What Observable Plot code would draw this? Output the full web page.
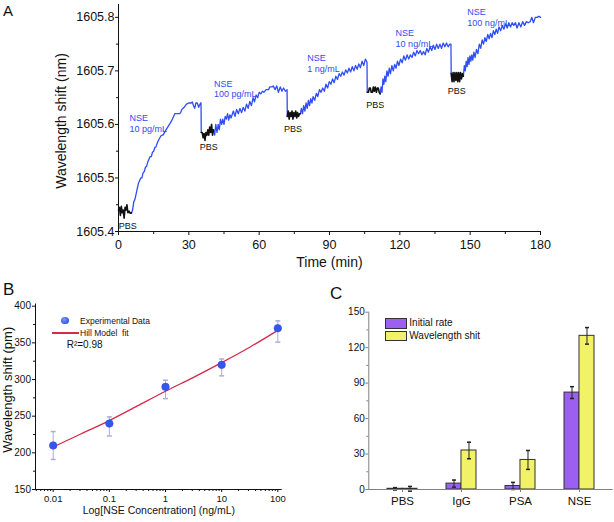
<!DOCTYPE html>
<html><head><meta charset="utf-8">
<script src="https://cdn.jsdelivr.net/npm/d3@7"></script>
<script src="https://cdn.jsdelivr.net/npm/@observablehq/plot@0.6"></script>
<style>
body{margin:0;background:#fff;}
#wrap{position:relative;width:614px;height:522px;overflow:hidden;background:#fff;font-family:"Liberation Sans",Arial,Helvetica,sans-serif;color:#111;}
#wrap svg{position:absolute;overflow:visible;}
.lbl{position:absolute;line-height:1;white-space:pre;}
</style></head><body><div id="wrap"></div>
<script>
// ---------------- Panel A data ----------------
const aXTicks = [0, 30, 60, 90, 120, 150, 180];
const aXMinor = [15, 45, 75, 105, 135, 165];
const aYTicks = [1605.4, 1605.5, 1605.6, 1605.7, 1605.8];
const aYMinor = [1605.45, 1605.55, 1605.65, 1605.75];

const pbs1 = [[0,1605.44],[0.4,1605.445],[0.8,1605.43],[1.2,1605.447],[1.6,1605.435],[2.0,1605.44],[2.4,1605.425],[2.8,1605.445],[3.2,1605.44],[3.6,1605.45],[4.0,1605.435],[4.5,1605.438],[5.0,1605.434],[5.5,1605.435]];
const blue1 = [[5.5,1605.434],[6,1605.44],[6.5,1605.455],[7,1605.46],[7.5,1605.47],[8,1605.48],[8.5,1605.49],[9,1605.495],[9.5,1605.5],[10,1605.5],[10.5,1605.51],[11,1605.512],[11.5,1605.52],[12,1605.522],[12.5,1605.53],[13,1605.535],[13.5,1605.54],[14,1605.54],[14.5,1605.548],[15,1605.55],[15.5,1605.557],[16,1605.558],[16.5,1605.565],[17,1605.57],[18,1605.578],[18.5,1605.58],[19,1605.58],[20,1605.588],[21,1605.595],[22,1605.602],[23,1605.61],[24,1605.62],[25,1605.62],[26,1605.62],[26.5,1605.622],[27,1605.628],[28,1605.632],[29,1605.638],[30,1605.64],[31,1605.64],[31.5,1605.642],[32,1605.635],[32.5,1605.63],[33,1605.64],[33.6,1605.64],[34.2,1605.632],[35,1605.64],[35.2,1605.64],[35.3,1605.585]];
const pbs2 = [[35.3,1605.585],[35.7,1605.585],[36.1,1605.575],[36.5,1605.583],[36.9,1605.57],[37.3,1605.585],[37.7,1605.58],[38.1,1605.59],[38.5,1605.58],[38.9,1605.595],[39.3,1605.585],[39.7,1605.6],[40.1,1605.58],[40.5,1605.59]];
const blue2 = [[40.5,1605.59],[41,1605.58],[41.5,1605.6],[42,1605.585],[42.5,1605.6],[43,1605.59],[43.5,1605.61],[44,1605.6],[44.5,1605.61],[45,1605.6],[45.5,1605.615],[46,1605.61],[46.5,1605.62],[47,1605.608],[47.5,1605.618],[48,1605.612],[49,1605.625],[49.7,1605.615],[50.4,1605.628],[51.1,1605.62],[51.8,1605.63],[52.5,1605.622],[53.2,1605.632],[53.9,1605.625],[54.6,1605.638],[55.3,1605.63],[56,1605.643],[56.7,1605.635],[57.4,1605.65],[58,1605.642],[58.7,1605.655],[59.4,1605.65],[60,1605.66],[60.7,1605.657],[61.4,1605.662],[62,1605.66],[63,1605.665],[64,1605.665],[64.5,1605.67],[65.5,1605.67],[66,1605.672],[66.8,1605.665],[67.5,1605.672],[68.2,1605.66],[69,1605.67],[69.7,1605.662],[70.4,1605.668],[71.2,1605.662],[71.9,1605.665],[72,1605.615]];
const pbs3 = [[72,1605.615],[72.4,1605.625],[72.8,1605.61],[73.2,1605.622],[73.6,1605.615],[74,1605.625],[74.4,1605.61],[74.8,1605.622],[75.2,1605.615],[75.6,1605.625],[76,1605.612],[76.4,1605.622],[76.8,1605.615],[77.2,1605.62],[77.6,1605.62]];
const blue3 = [[77.6,1605.62],[78,1605.63],[78.5,1605.62],[79,1605.635],[79.5,1605.625],[80,1605.64],[80.5,1605.63],[81,1605.645],[81.5,1605.635],[82,1605.648],[82.5,1605.64],[83,1605.652],[83.7,1605.645],[84.4,1605.658],[85,1605.652],[85.7,1605.665],[86.4,1605.66],[87.1,1605.668],[87.8,1605.662],[88.5,1605.675],[89.2,1605.668],[89.9,1605.68],[90.6,1605.675],[91.3,1605.685],[92,1605.678],[92.7,1605.69],[93.4,1605.684],[94.1,1605.695],[94.8,1605.69],[95.5,1605.698],[96.2,1605.692],[96.9,1605.702],[97.6,1605.696],[98.3,1605.705],[99,1605.698],[99.7,1605.708],[100.4,1605.7],[101.1,1605.71],[101.8,1605.703],[102.5,1605.713],[103.2,1605.706],[103.9,1605.718],[104.6,1605.71],[105.3,1605.722],[106,1605.716],[106.1,1605.66]];
const pbs4 = [[106.1,1605.66],[106.6,1605.66],[107,1605.668],[107.4,1605.668],[107.8,1605.66],[108.3,1605.66],[108.7,1605.67],[109.1,1605.662],[109.5,1605.67],[110,1605.66],[110.4,1605.668],[110.8,1605.668],[111.2,1605.66],[111.6,1605.657]];
const blue4 = [[111.6,1605.657],[112,1605.67],[112.4,1605.66],[112.8,1605.685],[113.2,1605.675],[113.6,1605.69],[114,1605.68],[114.5,1605.7],[115,1605.69],[115.5,1605.705],[116,1605.695],[116.6,1605.71],[117.2,1605.7],[117.8,1605.712],[118.4,1605.705],[119,1605.718],[119.6,1605.71],[120.3,1605.722],[121,1605.715],[121.7,1605.728],[122.4,1605.72],[123.1,1605.73],[123.8,1605.722],[124.5,1605.73],[125.2,1605.725],[125.9,1605.735],[126.6,1605.728],[127.3,1605.738],[128,1605.732],[128.7,1605.738],[129.4,1605.73],[130.1,1605.736],[130.8,1605.73],[131.5,1605.742],[132.2,1605.735],[132.9,1605.745],[133.6,1605.738],[134.3,1605.748],[135,1605.74],[135.7,1605.75],[136.4,1605.742],[137.1,1605.75],[137.8,1605.742],[138.5,1605.752],[139.2,1605.745],[139.9,1605.752],[140.6,1605.745],[141.3,1605.75],[141.8,1605.75],[141.9,1605.695]];
const pbs5 = [[141.9,1605.695],[142.3,1605.68],[142.7,1605.697],[143.1,1605.68],[143.5,1605.697],[143.9,1605.682],[144.3,1605.697],[144.7,1605.68],[145.1,1605.697],[145.5,1605.68],[145.9,1605.697],[146.3,1605.685],[146.7,1605.695],[147.1,1605.69]];
const blue5 = [[147.1,1605.69],[147.5,1605.71],[147.9,1605.7],[148.3,1605.718],[148.7,1605.708],[149.1,1605.725],[149.5,1605.712],[149.9,1605.728],[150.3,1605.718],[150.7,1605.73],[151.1,1605.72],[151.6,1605.735],[152.1,1605.725],[152.7,1605.74],[153.3,1605.732],[153.9,1605.75],[154.5,1605.742],[155.1,1605.758],[155.7,1605.75],[156.3,1605.762],[156.9,1605.755],[157.5,1605.768],[158.1,1605.76],[158.7,1605.77],[159.3,1605.762],[159.9,1605.775],[160.5,1605.768],[161.1,1605.778],[161.7,1605.77],[162.3,1605.782],[163,1605.775],[163.7,1605.785],[164.4,1605.778],[165.1,1605.788],[165.8,1605.78],[166.5,1605.79],[167.2,1605.782],[167.9,1605.79],[168.6,1605.785],[169.3,1605.79],[170,1605.78],[170.8,1605.79],[171.6,1605.782],[172.4,1605.792],[173.2,1605.785],[174,1605.792],[174.8,1605.79],[175.6,1605.792],[176.3,1605.8],[177,1605.79],[177.8,1605.8],[178.6,1605.8],[179.3,1605.802],[180,1605.8]];

const nseLabels = ["NSE\n10 pg/mL", "NSE\n100 pg/mL", "NSE\n1 ng/mL", "NSE\n10 ng/mL", "NSE\n100 ng/mL"];
const nseLabelT = [4.7, 40.7, 80.5, 118.2, 148.8];
const nseLabelV = [1605.62, 1605.685, 1605.732, 1605.779, 1605.819];
const pbsLabelT = [3.9, 38.5, 74.4, 109.5, 144.3];
const pbsLabelV = [1605.416, 1605.564, 1605.598, 1605.642, 1605.669];

// ---------------- Panel B data ----------------
const bConc = [0.01, 0.1, 1, 10, 100];
const bShift = [210, 240, 290, 320, 370];
const bLow = [191, 223, 274, 305, 351];
const bHigh = [229, 249, 299, 328, 380];
const fitConc = [0.01, 0.0316, 0.1, 0.316, 1, 3.16, 10, 31.6, 100];
const fitShift = [208, 226, 244, 264, 284, 303, 323, 344, 367];
const bXTicks = [0.01, 0.1, 1, 10, 100];
const bYTicks = [150, 200, 250, 300, 350, 400];
const bYMinor = [175, 225, 275, 325, 375];

// ---------------- Panel C data ----------------
const cCats = ["PBS", "IgG", "PSA", "NSE"];
const cSeries = ["Initial rate", "Wavelength shit"];
const cInitial = [0.6, 5, 3, 82];
const cInitialErr = [1, 3, 3, 5];
const cShift = [0.6, 33, 25, 130];
const cShiftErr = [2, 7, 8, 7];
const cYTicks = [0, 30, 60, 90, 120, 150];
const cYMinor = [15, 45, 75, 105, 135];

// ---------------- styling ----------------
const FONT = '"Liberation Sans", Arial, Helvetica, sans-serif';
const BLUE = "#2f4cf5";
const PT = "#3355f0";
const LAV = "#aeaadf";
const RED = "#d42a4a";
const PURPLE = "#9b5ff2";
const YELLOW = "#f2f268";
const GRAY = "#808080";
const wrap = document.getElementById("wrap");
const capSymbol = {draw(ctx, size) { const w = Math.sqrt(size / Math.PI); ctx.moveTo(-w, 0); ctx.lineTo(w, 0); }};
const blank = () => "";
function place(svg, left, top) { svg.style.position = "absolute"; svg.style.left = left + "px"; svg.style.top = top + "px"; wrap.appendChild(svg); }
function label(txt, left, capTop, size, extra = {}) {
  const d = document.createElement("div");
  d.className = "lbl"; d.textContent = txt;
  d.style.left = left + "px"; d.style.top = (capTop - 0.13 * size) + "px"; d.style.fontSize = size + "px";
  Object.assign(d.style, extra); wrap.appendChild(d); return d;
}
function box(left, top, w, h, style) {
  const d = document.createElement("div");
  Object.assign(d.style, {position: "absolute", left: left + "px", top: top + "px", width: w + "px", height: h + "px", boxSizing: "border-box"}, style);
  wrap.appendChild(d); return d;
}

// ---------------- Panel A ----------------
const toRows = (segs) => segs.flatMap((s, k) => s.map(([t, v]) => ({t, v, k})));
const blueRows = toRows([blue1, blue2, blue3, blue4, blue5]);
const pbsRows = toRows([pbs1, pbs2, pbs3, pbs4, pbs5]);

const plotA = Plot.plot({
  width: 614, height: 270,
  marginLeft: 118, marginRight: 74, marginTop: 4, marginBottom: 39,
  style: {fontFamily: FONT, background: "transparent", color: "#111", fontSize: "12px"},
  x: {domain: [0, 180]},
  y: {domain: [1605.4, 1605.824]},
  marks: [
    Plot.axisX(aXMinor, {tickSize: 3, tickFormat: blank, label: null}),
    Plot.axisX(aXTicks, {tickSize: 4, tickPadding: 5, fontSize: 12.5, label: null}),
    Plot.axisY(aYMinor, {tickSize: 2, tickFormat: blank, label: null}),
    Plot.axisY(aYTicks, {tickSize: 3, tickPadding: 1, fontSize: 12.5, tickFormat: d => d.toFixed(1), label: null}),
    Plot.ruleX([0], {stroke: "#111"}),
    Plot.ruleY([1605.4], {stroke: "#111"}),
    Plot.line(blueRows, {x: "t", y: "v", z: "k", stroke: BLUE, strokeWidth: 1.3}),
    Plot.line(pbsRows, {x: "t", y: "v", z: "k", stroke: "#111", strokeWidth: 1.6}),
    Plot.text(nseLabels, {x: (d, i) => nseLabelT[i], y: (d, i) => nseLabelV[i], text: d => d, textAnchor: "start", lineAnchor: "top", fontSize: 9, lineHeight: 1.2, fill: BLUE}),
    Plot.text(pbsLabelT, {x: d => d, y: (d, i) => pbsLabelV[i], text: () => "PBS", lineAnchor: "top", fontSize: 9, fill: "#111"}),
    Plot.text(["Wavelength shift (nm)"], {text: d => d, frameAnchor: "left", textAnchor: "middle", rotate: -90, lineAnchor: "top", dx: -62, dy: 3, fontSize: 14}),
    Plot.text(["Time (min)"], {text: d => d, frameAnchor: "bottom", textAnchor: "middle", lineAnchor: "bottom", dy: 35, fontSize: 14})
  ]
});
place(plotA, 0, 0);

// ---------------- Panel B ----------------
const bXDomain = [0.00484, 119.7];
const bXMinor = [];
for (const dec of [0.001, 0.01, 0.1, 1, 10]) for (let m = 2; m <= 9; m++) { const v = +(m * dec).toPrecision(3); if (v > bXDomain[0] && v < bXDomain[1]) bXMinor.push(v); }

const plotB = Plot.plot({
  width: 310, height: 252,
  marginLeft: 35, marginRight: 28.3, marginTop: 33.5, marginBottom: 33,
  style: {fontFamily: FONT, background: "transparent", color: "#111", fontSize: "10px"},
  x: {type: "log", domain: bXDomain},
  y: {domain: [150, 403]},
  marks: [
    Plot.axisX(bXMinor, {tickSize: 2, tickFormat: blank, label: null}),
    Plot.axisX(bXTicks, {tickSize: 3, tickPadding: 2.5, fontSize: 9.5, tickFormat: d => String(d), label: null}),
    Plot.axisY(bYMinor, {tickSize: 2, tickFormat: blank, label: null}),
    Plot.axisY(bYTicks, {tickSize: 3, tickPadding: 1.5, fontSize: 10, label: null}),
    Plot.ruleX([bXDomain[0]], {stroke: "#111"}),
    Plot.ruleY([150], {stroke: "#111"}),
    Plot.ruleX(bConc, {x: d => d, y1: (d, i) => bLow[i], y2: (d, i) => bHigh[i], stroke: LAV, strokeWidth: 1}),
    Plot.dot(bConc, {x: d => d, y: (d, i) => bLow[i], symbol: capSymbol, r: 2.5, stroke: LAV, fill: "none"}),
    Plot.dot(bConc, {x: d => d, y: (d, i) => bHigh[i], symbol: capSymbol, r: 2.5, stroke: LAV, fill: "none"}),
    Plot.line(fitConc, {x: d => d, y: (d, i) => fitShift[i], stroke: RED, strokeWidth: 1.3, curve: "monotone-x"}),
    Plot.dot(bConc, {x: d => d, y: (d, i) => bShift[i], r: 3.8, fill: PT, stroke: "#2a44d8", strokeWidth: 0.5}),
    Plot.text(["Wavelength shift (pm)"], {text: d => d, frameAnchor: "left", textAnchor: "middle", rotate: -90, lineAnchor: "top", dx: -33, dy: -7, fontSize: 13}),
    Plot.text(["Log[NSE Concentration] (ng/mL)"], {text: d => d, frameAnchor: "bottom", textAnchor: "middle", lineAnchor: "bottom", dy: 24, fontSize: 10.5})
  ]
});
place(plotB, 0, 270);

// ---------------- Panel C ----------------
const cW = 304, cML = 58.3, cMR = 1.3, cPI = 0.5, cPO = 0.29;
const cStep = (cW - cML - cMR) / (cCats.length - cPI + 2 * cPO);
const cBw = cStep * (1 - cPI);
const plotC = Plot.plot({
  width: cW, height: 252,
  marginLeft: cML, marginRight: cMR, marginTop: 41.7, marginBottom: 33,
  style: {fontFamily: FONT, background: "transparent", color: "#111", fontSize: "10px"},
  x: {type: "band", domain: cCats, paddingInner: cPI, paddingOuter: cPO},
  y: {domain: [0, 150]},
  marks: [
    Plot.barY(cCats, {x: d => d, y: (d, i) => cInitial[i], insetRight: cBw / 2, fill: PURPLE, stroke: "#333", strokeWidth: 1}),
    Plot.barY(cCats, {x: d => d, y: (d, i) => cShift[i], insetLeft: cBw / 2, fill: YELLOW, stroke: "#333", strokeWidth: 1}),
    Plot.ruleX(cCats, {x: d => d, y1: (d, i) => Math.max(0, cInitial[i] - cInitialErr[i]), y2: (d, i) => cInitial[i] + cInitialErr[i], dx: -cBw / 4, stroke: "#222"}),
    Plot.dot(cCats, {x: d => d, y: (d, i) => cInitial[i] + cInitialErr[i], dx: -cBw / 4, symbol: capSymbol, r: 2, stroke: "#222", fill: "none"}),
    Plot.dot(cCats, {x: d => d, y: (d, i) => cInitial[i] - cInitialErr[i], dx: -cBw / 4, symbol: capSymbol, r: 2, stroke: "#222", fill: "none"}),
    Plot.ruleX(cCats, {x: d => d, y1: (d, i) => Math.max(0, cShift[i] - cShiftErr[i]), y2: (d, i) => cShift[i] + cShiftErr[i], dx: cBw / 4, stroke: "#222"}),
    Plot.dot(cCats, {x: d => d, y: (d, i) => cShift[i] + cShiftErr[i], dx: cBw / 4, symbol: capSymbol, r: 2, stroke: "#222", fill: "none"}),
    Plot.dot(cCats, {x: d => d, y: (d, i) => cShift[i] - cShiftErr[i], dx: cBw / 4, symbol: capSymbol, r: 2, stroke: "#222", fill: "none"}),
    Plot.axisX(cCats, {tickSize: 3, tickPadding: 4, fontSize: 11.5, stroke: GRAY, fill: "#111", label: null}),
    Plot.axisY(cYMinor, {tickSize: 2, tickFormat: blank, stroke: GRAY, label: null}),
    Plot.axisY(cYTicks, {tickSize: 3, tickPadding: 1, fontSize: 10, stroke: GRAY, fill: "#111", label: null}),
    Plot.ruleY([0], {stroke: GRAY}),
    Plot.frame({anchor: "left", stroke: GRAY})
  ]
});
place(plotC, 310, 270);

// ---------------- legends & panel letters ----------------
// B legend
box(65 - 3.8, 320.7 - 3.8, 7.6, 7.6, {borderRadius: "50%", background: "radial-gradient(circle at 40% 35%, #7f97ff, " + PT + " 70%)"});
label("Experimental Data", 80, 320.7 - 0.358 * 8.5, 8.5);
box(51.7, 332.4, 27.3, 1.3, {background: RED});
label("Hill Model  fit", 80, 333 - 0.358 * 8.5, 8.5);
label("R\u00B2=0.98", 66.7, 345 - 0.358 * 10, 10);
// C legend
box(385, 318, 21.7, 10.5, {background: PURPLE, border: "1px solid #333"});
box(385, 330.5, 21.7, 10.5, {background: YELLOW, border: "1px solid #333"});
label(cSeries[0], 409.3, 323 - 0.358 * 10, 10);
label(cSeries[1], 409.3, 335.7 - 0.358 * 10, 10);
// panel letters
label("A", 3, 5, 15);
label("B", 3, 283.5, 17);
label("C", 330, 287, 17);
</script></body></html>
